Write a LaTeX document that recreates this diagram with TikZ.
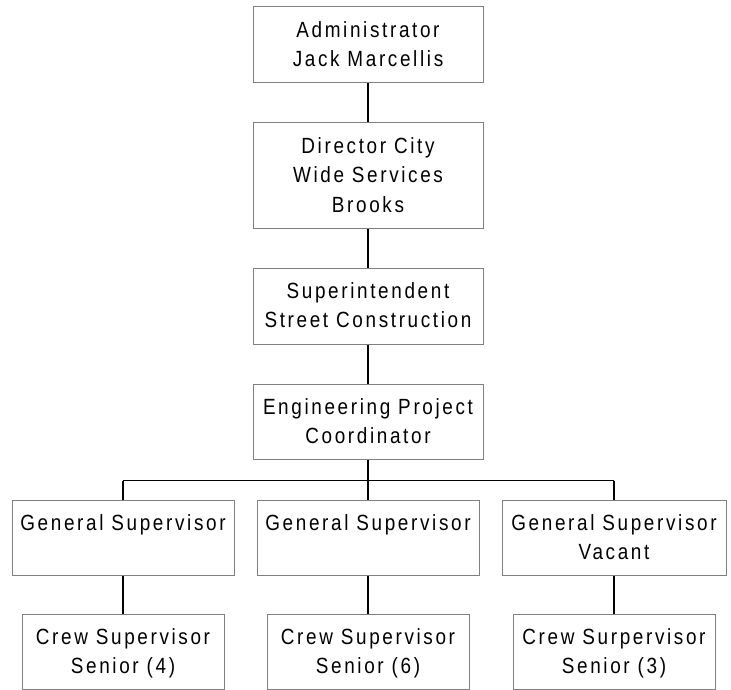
\documentclass[tikz,border=0pt]{standalone}
\usepackage{fontspec}
\usetikzlibrary{calc}
\newfontfamily\orgfont{Liberation Sans}[FakeStretch=0.86, LetterSpace=12]
\begin{document}
\begin{tikzpicture}[x=1pt,y=-1pt,
  box/.style={draw=black!50, line width=1pt, fill=white, inner sep=0pt},
  label/.style={font=\orgfont\fontsize{22}{29.5}\selectfont, align=center, inner sep=0pt, anchor=north},
  link/.style={draw=black, line width=1.1pt}]
\useasboundingbox (0,0) rectangle (731,690);
\newcommand{\orgbox}[6]{%
  \node[box, minimum width={#4-#2}, minimum height={#5-#3}] (#1) at ({(#2+#4)/2},{(#3+#5)/2}) {};
  \node[label] (#1-t) at ({(#2+#4)/2},{#3+13}) {\rule{0pt}{17pt}#6};}
\orgbox{admin}{253}{7}{483}{83}{Administrator\\Jack Marcellis}
\orgbox{dir}{253}{123}{483}{228}{Director City\\Wide Services\\Brooks}
\orgbox{sup}{253}{268}{483}{344}{Superintendent\\Street Construction}
\orgbox{eng}{253}{384}{483}{459}{Engineering Project\\Coordinator}
\orgbox{gsa}{12}{500}{234}{575}{General Supervisor}
\orgbox{gsb}{257}{500}{479}{575}{General Supervisor}
\orgbox{gsc}{502}{500}{726}{575}{General Supervisor\\Vacant}
\orgbox{crewa}{22}{614}{224}{689}{Crew Supervisor\\Senior (4)}
\orgbox{crewb}{267}{614}{469}{689}{Crew Supervisor\\Senior (6)}
\orgbox{crewc}{513}{614}{715}{689}{Crew Surpervisor\\Senior (3)}
% branching bar below the coordinator
\coordinate (bar) at ($(eng.south)+(0,21)$);
\coordinate (barL) at (bar -| gsa.north);
\coordinate (barR) at (bar -| gsc.north);
\draw[link] (admin.south) -- (dir.north);
\draw[link] (dir.south) -- (sup.north);
\draw[link] (sup.south) -- (eng.north);
\draw[link] (eng.south) -- (bar);
\draw[link] (barL) -- (barR);
\draw[link] (barL) -- (gsa.north);
\draw[link] (bar) -- (bar |- gsb.north);
\draw[link] (barR) -- (gsc.north);
\draw[link] (gsa.south) -- (crewa.north);
\draw[link] (gsb.south) -- (crewb.north);
\draw[link] (gsc.south) -- (crewc.north);
\end{tikzpicture}
\end{document}
